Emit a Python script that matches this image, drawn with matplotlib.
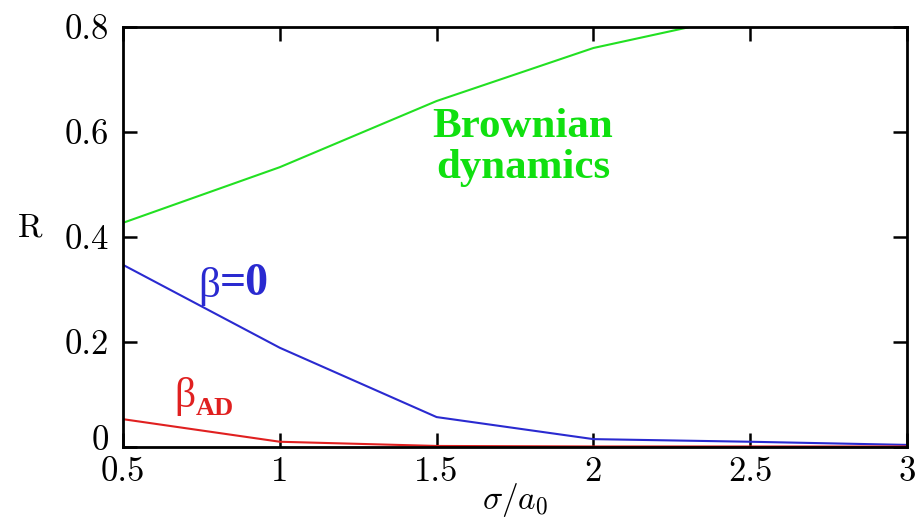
"""R versus sigma/a0 for three cases"""

import matplotlib
matplotlib.use('Agg')
import matplotlib.pyplot as plt
import matplotlib.transforms as mtrans

###Data
sigma = [0.5, 1.0, 1.5, 2.0, 2.5, 3.0]
r_brownian = [0.427, 0.533, 0.659, 0.760, 0.825, 0.880]
r_beta0 = [0.347, 0.189, 0.057, 0.015, 0.010, 0.004]
r_beta_ad = [0.053, 0.010, 0.002, 0.001, 0.001, 0.001]
x_ticks = [0.5, 1, 1.5, 2, 2.5, 3]
x_tick_labels = ['0.5', '1', '1.5', '2', '2.5', '3']
y_ticks = [0, 0.2, 0.4, 0.6, 0.8]
y_tick_labels = ['0', '0.2', '0.4', '0.6', '0.8']
###Data end

###Adjustments
fig_size = (9.2, 5.24)
dpi = 100
tick_font = 25
green = '#22e022'
blue = '#2a2ad0'
red = '#e02020'
serif = 'Liberation Serif'
###Adjustments end

plt.rcParams['mathtext.fontset'] = 'cm'
plt.rcParams['axes.unicode_minus'] = False

fig = plt.figure(figsize=fig_size, dpi=dpi)
ax = fig.add_axes([123 / 920, 1 - 447 / 524, 784 / 920, 420 / 524])

ax.plot(sigma, r_brownian, color=green, lw=1.5)
ax.plot(sigma, r_beta0, color=blue, lw=1.5)
ax.plot(sigma, r_beta_ad, color=red, lw=1.5)

ax.set_xlim(0.5, 3)
ax.set_ylim(0, 0.8)
ax.set_xticks(x_ticks)
ax.set_xticklabels(x_tick_labels, fontfamily='cmr10', fontsize=tick_font)
ax.set_yticks(y_ticks)
ax.set_yticklabels(y_tick_labels, fontfamily='cmr10', fontsize=tick_font)
ax.tick_params(direction='in', length=10, width=1.8, top=True, right=True)
ax.tick_params(axis='x', pad=7)
ax.tick_params(axis='y', pad=10)
for s in ax.spines.values():
    s.set_linewidth(2)

# lift the "0" label a little so it clears "0.5"
lab0 = ax.get_yticklabels()[0]
lab0.set_transform(lab0.get_transform() +
                   mtrans.ScaledTranslation(0, 7 / 72, fig.dpi_scale_trans))

ax.set_xlabel(r'$\sigma/a_0$', fontsize=24, labelpad=-5)
fig.text(30 / 920, 1 - 228 / 524, 'R', fontfamily='cmr10', fontsize=24,
         ha='center', va='center')

ax.text(1.775, 0.645, 'Brownian\ndynamics', color='#10e010', fontsize=31,
        fontfamily=serif, fontweight='bold', ha='center', va='top',
        linespacing=1.1)

# beta = 0 label: thin beta, bold "=0"
t = ax.text(0.74, 0.305, 'β', color=blue, fontsize=31, fontfamily=serif,
            ha='left', va='center')
ax.annotate('=0', xy=(1, 0), xycoords=t, xytext=(0, 1), textcoords='offset points',
            color=blue, fontsize=33, fontfamily=serif, fontweight='bold',
            ha='left', va='bottom')

# beta_AD label
t2 = ax.text(0.665, 0.097, 'β', color=red, fontsize=30, fontfamily=serif,
             ha='left', va='center')
ax.annotate('AD', xy=(1, 0), xycoords=t2, xytext=(0, -3), textcoords='offset points',
            color=red, fontsize=19, fontfamily=serif, fontweight='bold',
            ha='left', va='bottom')

fig.savefig('out.png', dpi=dpi)
plt.close()
